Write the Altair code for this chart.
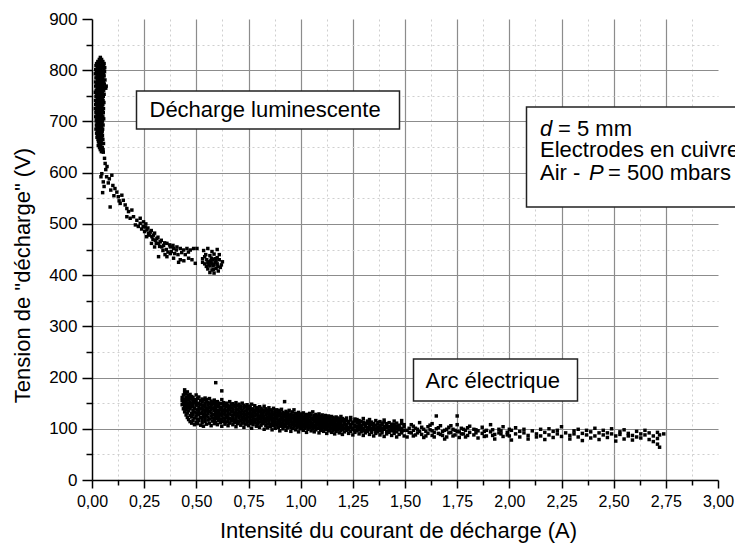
import altair as alt
import pandas as pd

# ---- data ----
# glow discharge core: (U level, [I values])
glow_rows = [
    (825, [0.040]), (821, [0.035, 0.046]), (817, [0.028, 0.041, 0.052]),
    (813, [0.022, 0.033, 0.047, 0.058]), (809, [0.019, 0.030, 0.044, 0.055]),
    (805, [0.025, 0.038, 0.050, 0.061]), (801, [0.018, 0.031, 0.043, 0.057]),
    (797, [0.022, 0.036, 0.049, 0.060]), (793, [0.016, 0.028, 0.041, 0.054]),
    (789, [0.024, 0.035, 0.047, 0.058]), (785, [0.019, 0.031, 0.044, 0.052]),
    (781, [0.026, 0.038, 0.049, 0.062]), (777, [0.017, 0.029, 0.042, 0.055]),
    (773, [0.023, 0.034, 0.046, 0.059]), (769, [0.018, 0.030, 0.041, 0.053, 0.068]),
    (765, [0.025, 0.037, 0.048, 0.061, 0.066]), (761, [0.020, 0.032, 0.044, 0.056]),
    (757, [0.016, 0.027, 0.039, 0.051]), (753, [0.023, 0.035, 0.047, 0.058]),
    (749, [0.019, 0.030, 0.042, 0.054]), (745, [0.025, 0.037, 0.049]),
    (741, [0.017, 0.029, 0.041, 0.053]), (737, [0.022, 0.034, 0.046, 0.057]),
    (733, [0.018, 0.030, 0.043, 0.052]), (729, [0.024, 0.036, 0.048]),
    (725, [0.016, 0.028, 0.040, 0.055]), (721, [0.021, 0.033, 0.045, 0.050]),
    (717, [0.019, 0.031, 0.042, 0.054]), (713, [0.024, 0.036, 0.047]),
    (709, [0.018, 0.029, 0.041, 0.052]), (705, [0.023, 0.034, 0.046, 0.056]),
    (701, [0.020, 0.032, 0.043, 0.050]), (697, [0.025, 0.037, 0.048]),
    (693, [0.021, 0.030, 0.041, 0.053]), (689, [0.024, 0.035, 0.046]),
    (685, [0.019, 0.031, 0.043, 0.051]), (681, [0.026, 0.038, 0.049]),
    (677, [0.022, 0.033, 0.045]), (673, [0.027, 0.039, 0.050]),
    (669, [0.024, 0.036, 0.047]), (665, [0.029, 0.041, 0.052]),
    (661, [0.031, 0.044]), (657, [0.034, 0.047, 0.055]), (653, [0.030, 0.042]),
    (649, [0.036, 0.049]), (645, [0.040, 0.053]), (641, [0.045]),
]

# glow discharge tail: (I, U)
glow_tail = [
    (0.054, 640), (0.063, 618), (0.047, 598), (0.043, 592), (0.070, 592), (0.054, 582),
    (0.078, 580), (0.095, 595), (0.051, 561), (0.100, 575), (0.110, 569), (0.119, 562),
    (0.087, 533), (0.126, 553), (0.143, 556), (0.150, 546), (0.135, 540), (0.159, 537),
    (0.167, 530), (0.175, 524), (0.191, 527), (0.167, 514), (0.183, 511), (0.199, 514),
    (0.215, 507), (0.231, 511), (0.231, 501), (0.247, 504), (0.255, 494), (0.263, 488),
    (0.271, 481), (0.279, 484), (0.287, 475), (0.295, 478), (0.303, 468), (0.311, 471),
    (0.319, 462), (0.327, 465), (0.335, 455), (0.343, 458), (0.359, 462), (0.375, 455),
    (0.391, 452), (0.407, 455), (0.423, 452), (0.439, 449), (0.455, 452), (0.471, 449),
    (0.487, 452), (0.503, 452), (0.359, 436), (0.391, 433), (0.423, 430), (0.463, 433),
    (0.479, 430), (0.495, 423), (0.319, 436), (0.375, 442),
    (0.245, 495), (0.258, 500), (0.268, 492), (0.276, 478), (0.284, 487), (0.292, 470),
    (0.300, 482), (0.308, 462), (0.316, 474), (0.324, 456), (0.332, 468), (0.340, 448),
    (0.348, 463), (0.356, 450), (0.364, 445), (0.372, 459), (0.380, 446), (0.388, 458),
    (0.396, 442), (0.404, 449), (0.412, 440), (0.430, 444), (0.447, 440), (0.462, 445),
    (0.208, 498), (0.222, 495), (0.238, 490), (0.252, 485), (0.262, 475), (0.285, 462),
    (0.300, 455), (0.350, 440), (0.415, 425), (0.440, 428),
    (0.060, 628), (0.066, 606), (0.072, 612), (0.058, 573), (0.083, 588), (0.090, 566),
    (0.105, 555), (0.130, 545),
]

# glow discharge end cluster: (I, U)
glow_end = [
    (0.535, 448), (0.555, 452), (0.600, 450), (0.545, 440), (0.565, 438), (0.585, 441),
    (0.530, 432), (0.550, 430), (0.570, 428), (0.590, 432), (0.610, 430), (0.540, 422),
    (0.560, 420), (0.580, 418), (0.600, 422), (0.620, 420), (0.555, 412), (0.575, 410),
    (0.595, 413), (0.615, 415), (0.565, 405), (0.585, 404), (0.605, 408), (0.530, 425),
    (0.625, 426), (0.548, 417), (0.590, 425), (0.572, 433), (0.603, 417), (0.540, 436),
    (0.610, 440), (0.575, 446), (0.560, 426), (0.582, 411), (0.570, 425), (0.580, 430),
    (0.565, 418), (0.595, 428), (0.585, 420), (0.555, 424), (0.575, 422), (0.600, 434),
]

# electric arc: (I value, [U values])
arc_cols = [
    (0.432, [147, 155, 161]), (0.438, [139, 151, 158, 166]),
    (0.444, [133, 144, 149, 157, 171, 176]), (0.451, [127, 138, 146, 153, 162, 168]),
    (0.457, [122, 131, 141, 150, 159, 172]), (0.463, [118, 135, 144, 147, 156, 165]),
    (0.470, [114, 126, 139, 152, 160, 167]), (0.478, [111, 123, 130, 143, 149, 158, 163]),
    (0.484, [116, 128, 136, 145, 154, 161]), (0.491, [108, 121, 133, 140, 151, 157]),
    (0.499, [113, 125, 131, 146, 153, 166]), (0.506, [110, 119, 129, 137, 148, 159]),
    (0.512, [116, 127, 134, 142, 150, 162]), (0.521, [107, 122, 130, 139, 147, 155]),
    (0.528, [112, 118, 133, 141, 152, 158]), (0.534, [105, 124, 128, 137, 145, 156]),
    (0.542, [114, 120, 132, 143, 149, 160]), (0.549, [109, 126, 135, 140, 153, 157]),
    (0.556, [117, 123, 130, 138, 146, 151]), (0.563, [111, 119, 134, 142, 149, 159]),
    (0.571, [106, 125, 131, 137, 144, 154]), (0.578, [115, 121, 128, 140, 148, 152]),
    (0.586, [110, 118, 127, 135, 141, 156]), (0.593, [113, 124, 132, 139, 146, 151, 190]),
    (0.601, [108, 120, 126, 136, 143, 153]), (0.607, [116, 122, 130, 134, 147, 150]),
    (0.615, [112, 119, 128, 138, 142, 149]), (0.622, [105, 117, 125, 133, 141, 157, 174]),
    (0.630, [114, 121, 129, 136, 145, 151]), (0.637, [109, 118, 127, 131, 139, 148]),
    (0.645, [113, 122, 126, 135, 144, 150]), (0.652, [106, 116, 124, 132, 140, 146]),
    (0.660, [111, 120, 129, 137, 143, 153]), (0.668, [115, 118, 127, 134, 141, 147]),
    (0.675, [108, 121, 125, 133, 138, 149]), (0.683, [112, 117, 128, 131, 144, 146]),
    (0.690, [104, 119, 123, 136, 140, 151]), (0.698, [110, 115, 126, 130, 137, 145]),
    (0.705, [113, 121, 124, 134, 142, 148]), (0.713, [107, 116, 127, 132, 139, 144]),
    (0.720, [111, 118, 122, 129, 136, 150]), (0.728, [103, 114, 125, 131, 141, 146]),
    (0.735, [109, 117, 121, 128, 135, 143]), (0.743, [112, 119, 126, 133, 138, 147]),
    (0.750, [106, 115, 123, 130, 140, 144]), (0.758, [110, 113, 120, 127, 134, 142]),
    (0.765, [101, 116, 124, 129, 137, 148]), (0.772, [108, 112, 121, 126, 133, 139]),
    (0.780, [114, 118, 125, 131, 136, 145]), (0.788, [105, 111, 119, 128, 135, 141]),
    (0.795, [109, 116, 122, 127, 132, 138]), (0.803, [103, 113, 120, 125, 134, 143]),
    (0.810, [107, 117, 123, 129, 136, 140]), (0.818, [110, 115, 121, 126, 131, 137]),
    (0.825, [99, 112, 118, 124, 133, 144]), (0.833, [106, 114, 120, 128, 135, 139]),
    (0.840, [102, 109, 117, 122, 130, 136]), (0.848, [111, 116, 125, 127, 134, 141]),
    (0.855, [104, 108, 119, 123, 129, 137]), (0.863, [98, 113, 118, 126, 132, 135]),
    (0.870, [106, 110, 115, 121, 128, 140]), (0.878, [101, 112, 117, 124, 130, 134]),
    (0.885, [107, 109, 120, 122, 127, 137]), (0.893, [103, 111, 116, 125, 131, 136]),
    (0.900, [96, 108, 114, 119, 126, 133]), (0.908, [105, 110, 118, 123, 129, 138]),
    (0.915, [100, 112, 115, 121, 127, 132]), (0.923, [104, 109, 117, 124, 130, 153]),
    (0.930, [97, 107, 113, 119, 125, 134]), (0.938, [102, 111, 116, 122, 128, 131]),
    (0.945, [106, 110, 118, 120, 126, 136]), (0.953, [95, 103, 114, 117, 124, 129]),
    (0.960, [101, 108, 112, 121, 127, 133]), (0.968, [104, 109, 115, 119, 125, 137]),
    (0.975, [98, 106, 113, 118, 123, 130]), (0.983, [102, 107, 111, 120, 126, 128]),
    (0.990, [94, 105, 110, 116, 122, 132]), (0.998, [100, 108, 114, 117, 124, 129]),
    (1.005, [103, 106, 112, 119, 121, 127]), (1.013, [97, 104, 109, 115, 123, 131]),
    (1.020, [101, 107, 111, 118, 120, 126]), (1.028, [93, 105, 110, 114, 122, 128]),
    (1.035, [99, 103, 108, 116, 119, 125]), (1.043, [102, 106, 113, 117, 124, 130]),
    (1.050, [96, 104, 109, 112, 121, 127]), (1.058, [100, 107, 111, 118, 120, 133]),
    (1.065, [94, 103, 106, 114, 123, 126]), (1.073, [98, 105, 110, 116, 119, 128]),
    (1.080, [101, 108, 113, 117, 122, 125]), (1.088, [92, 104, 107, 111, 120, 129]),
    (1.095, [97, 102, 109, 115, 118, 124]), (1.103, [100, 106, 112, 114, 121, 127]),
    (1.110, [95, 103, 108, 116, 119, 123]), (1.118, [99, 105, 110, 113, 120, 126]),
    (1.125, [91, 101, 107, 112, 117, 122]), (1.133, [96, 104, 109, 115, 118, 125]),
    (1.140, [98, 102, 106, 111, 119, 121]), (1.148, [93, 100, 108, 114, 116, 124]),
    (1.155, [97, 103, 105, 110, 117, 122]), (1.163, [90, 99, 106, 112, 115, 120]),
    (1.170, [95, 101, 104, 109, 118, 123]), (1.178, [98, 102, 107, 113, 116, 121]),
    (1.185, [92, 100, 105, 111, 114, 119]), (1.193, [96, 103, 108, 110, 117, 124]),
    (1.200, [89, 99, 102, 106, 115, 120]), (1.210, [94, 101, 107, 112, 118]),
    (1.220, [97, 100, 104, 109, 116, 121]), (1.230, [91, 98, 103, 111, 114]),
    (1.240, [95, 102, 106, 108, 117, 122]), (1.250, [88, 99, 101, 110, 113]),
    (1.260, [93, 97, 104, 107, 115, 119]), (1.270, [96, 100, 105, 112, 118]),
    (1.280, [90, 98, 102, 108, 111, 116]), (1.290, [94, 99, 103, 106, 114]),
    (1.300, [87, 96, 101, 109, 113, 120]), (1.310, [92, 97, 104, 107, 111]),
    (1.320, [95, 100, 102, 110, 115]), (1.330, [89, 98, 103, 106, 112, 118]),
    (1.340, [93, 96, 101, 108, 113]), (1.350, [86, 99, 104, 105, 110]),
    (1.360, [91, 95, 100, 107, 116]), (1.370, [94, 98, 102, 109, 112]),
    (1.380, [88, 97, 103, 106, 114]), (1.390, [92, 96, 101, 108, 111]),
    (1.400, [85, 99, 100, 105, 113, 117]), (1.412, [90, 95, 102, 107, 110]),
    (1.424, [93, 98, 104, 112]), (1.436, [87, 96, 101, 106, 109]),
    (1.448, [91, 97, 103, 108, 115]), (1.460, [84, 94, 100, 105, 111]),
    (1.472, [89, 98, 102, 107]), (1.484, [92, 95, 101, 110, 116]),
    (1.496, [86, 97, 104, 108]),
    (1.51, [97, 84]), (1.52, [93, 101]), (1.53, [108, 92]), (1.54, [86, 97, 105]),
    (1.55, [88, 101]), (1.56, [92, 99]), (1.57, [95, 112]), (1.58, [89, 103]),
    (1.59, [83, 99]), (1.60, [95, 86]), (1.61, [104, 91]), (1.62, [98, 107]),
    (1.63, [96, 87, 110]), (1.64, [84, 93]), (1.65, [100, 125]), (1.66, [91, 102]),
    (1.67, [89, 106]), (1.68, [95, 87]), (1.69, [97, 80]), (1.70, [99, 84]),
    (1.71, [103, 92]), (1.72, [93, 106]), (1.73, [86, 99]), (1.74, [88, 97]),
    (1.75, [95, 108, 125]), (1.76, [94, 83]), (1.77, [90, 101]), (1.78, [99, 90]),
    (1.79, [84, 97]), (1.80, [87, 102]), (1.81, [93, 105]), (1.83, [88, 99]),
    (1.84, [92, 98]), (1.85, [96, 82]), (1.87, [91, 103]), (1.88, [95, 85]),
    (1.89, [86, 97]), (1.91, [94, 108]), (1.92, [98, 87]), (1.93, [89, 80]),
    (1.95, [99, 92]), (1.96, [90, 96]), (1.97, [85, 104]), (1.99, [93, 88]),
    (2.00, [86, 99]), (2.01, [97, 78]), (2.03, [90, 102]), (2.05, [84, 95]),
    (2.07, [92, 99]), (2.09, [87, 80]), (2.11, [96]), (2.13, [90, 84]),
    (2.15, [99, 86]), (2.17, [93, 79]), (2.19, [88, 100]), (2.21, [95, 83]),
    (2.23, [90, 97]), (2.25, [85, 104]), (2.27, [92]), (2.29, [87, 80]),
    (2.31, [96, 90]), (2.33, [84, 99]), (2.35, [91, 77]), (2.37, [88, 97]),
    (2.39, [94, 82]), (2.41, [86, 101]), (2.43, [92, 79]), (2.45, [97, 88]),
    (2.47, [83, 92]), (2.49, [90, 100]), (2.51, [86, 76]), (2.53, [94, 89]),
    (2.55, [80, 98]), (2.57, [91, 86]), (2.59, [87, 78]), (2.61, [95, 84]),
    (2.63, [82, 90]), (2.65, [88, 97]), (2.67, [79, 92]), (2.69, [86, 75]),
    (2.71, [93, 81, 70]), (2.72, [64, 88]), (2.74, [90]),
]

x_tick_values = [0, 0.125, 0.25, 0.375, 0.5, 0.625, 0.75, 0.875, 1.0, 1.125, 1.25, 1.375,
                 1.5, 1.625, 1.75, 1.875, 2.0, 2.125, 2.25, 2.375, 2.5, 2.625, 2.75, 2.875, 3.0]
y_tick_values = [0, 50, 100, 150, 200, 250, 300, 350, 400, 450, 500, 550, 600, 650, 700,
                 750, 800, 850, 900]

x_title = "Intensité du courant de décharge (A)"
y_title = 'Tension de "décharge" (V)'
label_glow = "Décharge luminescente"
label_arc = "Arc électrique"
info_lines = ["d", "= 5 mm", "Electrodes en cuivre", "Air -", "P", "= 500 mbars"]

# ---- build table ----
pts = []
for u, xs in glow_rows:
    for i in xs:
        pts.append((i, u))
pts += glow_tail + glow_end
for i, us in arc_cols:
    for u in us:
        pts.append((i, u))
df = pd.DataFrame(pts, columns=["I", "U"])

FONT = "Liberation Sans"
xmaj = "datum.value*4 % 1 == 0"
ymaj = "datum.value % 100 == 0"

x_axis = alt.Axis(
    values=x_tick_values,
    labelExpr=f"{xmaj} ? replace(format(datum.value, '.2f'), '.', ',') : ''",
    labelFont=FONT, labelFontSize=16, labelColor="black", labelPadding=5,
    labelOverlap=False, labelFlush=False,
    tickSize={"condition": {"test": xmaj, "value": 8}, "value": 5},
    tickColor="black", tickWidth=1.5,
    domainColor="black", domainWidth=1.5,
    grid=True,
    gridColor={"condition": {"test": xmaj, "value": "#8c8c8c"}, "value": "#cfcfcf"},
    gridDash={"condition": {"test": xmaj, "value": []}, "value": [2, 3]},
    gridWidth={"condition": {"test": xmaj, "value": 1.2}, "value": 1},
    gridOpacity={"condition": {"test": "datum.value >= 3 || datum.value == 0", "value": 0}, "value": 1},
    title=x_title, titleFont=FONT, titleFontSize=22, titleFontWeight="normal",
    titleColor="black", titleX=306, titleY=50, titleBaseline="middle", titleAlign="center",
)
y_axis = alt.Axis(
    values=y_tick_values,
    labelExpr=f"{ymaj} ? datum.label : ''",
    labelFont=FONT, labelFontSize=17, labelColor="black", labelPadding=5,
    labelOverlap=False, labelFlush=False,
    tickSize={"condition": {"test": ymaj, "value": 10}, "value": 6},
    tickColor="black", tickWidth=1.5,
    domainColor="black", domainWidth=1.5,
    grid=True,
    gridColor={"condition": {"test": ymaj, "value": "#8c8c8c"}, "value": "#cfcfcf"},
    gridDash={"condition": {"test": ymaj, "value": []}, "value": [2, 3]},
    gridWidth={"condition": {"test": ymaj, "value": 1.2}, "value": 1},
    gridOpacity={"condition": {"test": "datum.value >= 900 || datum.value == 0", "value": 0}, "value": 1},
    title=y_title, titleFont=FONT, titleFontSize=22, titleFontWeight="normal",
    titleColor="black", titleX=-70, titleY=256, titleBaseline="middle", titleAlign="center",
    titleAngle=270,
)

points = alt.Chart(df).mark_square(size=12, color="black", opacity=1).encode(
    x=alt.X("I:Q", scale=alt.Scale(domain=[0, 3], nice=False, zero=True), axis=x_axis),
    y=alt.Y("U:Q", scale=alt.Scale(domain=[0, 900], nice=False), axis=y_axis),
)


def box(x1, x2, y1, y2):
    return alt.Chart(pd.DataFrame({"k": [0]})).mark_rect(
        fill="white", stroke="#222222", strokeWidth=1.5
    ).encode(x=alt.value(x1), x2=alt.value(x2), y=alt.value(y1), y2=alt.value(y2))


def label(text, x, y, italic=False, size=22):
    kw = dict(align="left", baseline="alphabetic", font=FONT, fontSize=size, color="black")
    if italic:
        kw["fontStyle"] = "italic"
    return alt.Chart(pd.DataFrame({"t": [text]})).mark_text(**kw).encode(
        x=alt.value(x), y=alt.value(y), text="t:N"
    )


layers = [
    points,
    box(44.5, 307.5, 72, 110),
    label(label_glow, 57.5, 98),
    box(321.5, 485.5, 340, 382),
    label(label_arc, 333.5, 369),
    box(434.5, 680, 88, 188),
    label(info_lines[0], 448, 117, italic=True),
    label(info_lines[1], 466, 117),
    label(info_lines[2], 448, 138),
    label(info_lines[3], 448, 161),
    label(info_lines[4], 497, 161, italic=True),
    label(info_lines[5], 516, 161),
]

chart = alt.layer(*layers).properties(
    width=626, height=461,
    autosize=alt.AutoSizeParams(type="none"),
    padding={"left": 84, "top": 11, "right": 17, "bottom": 65},
    background="white",
).configure_view(strokeWidth=0)

chart.save("out.html", embed_options={"renderer": "svg", "actions": False})
